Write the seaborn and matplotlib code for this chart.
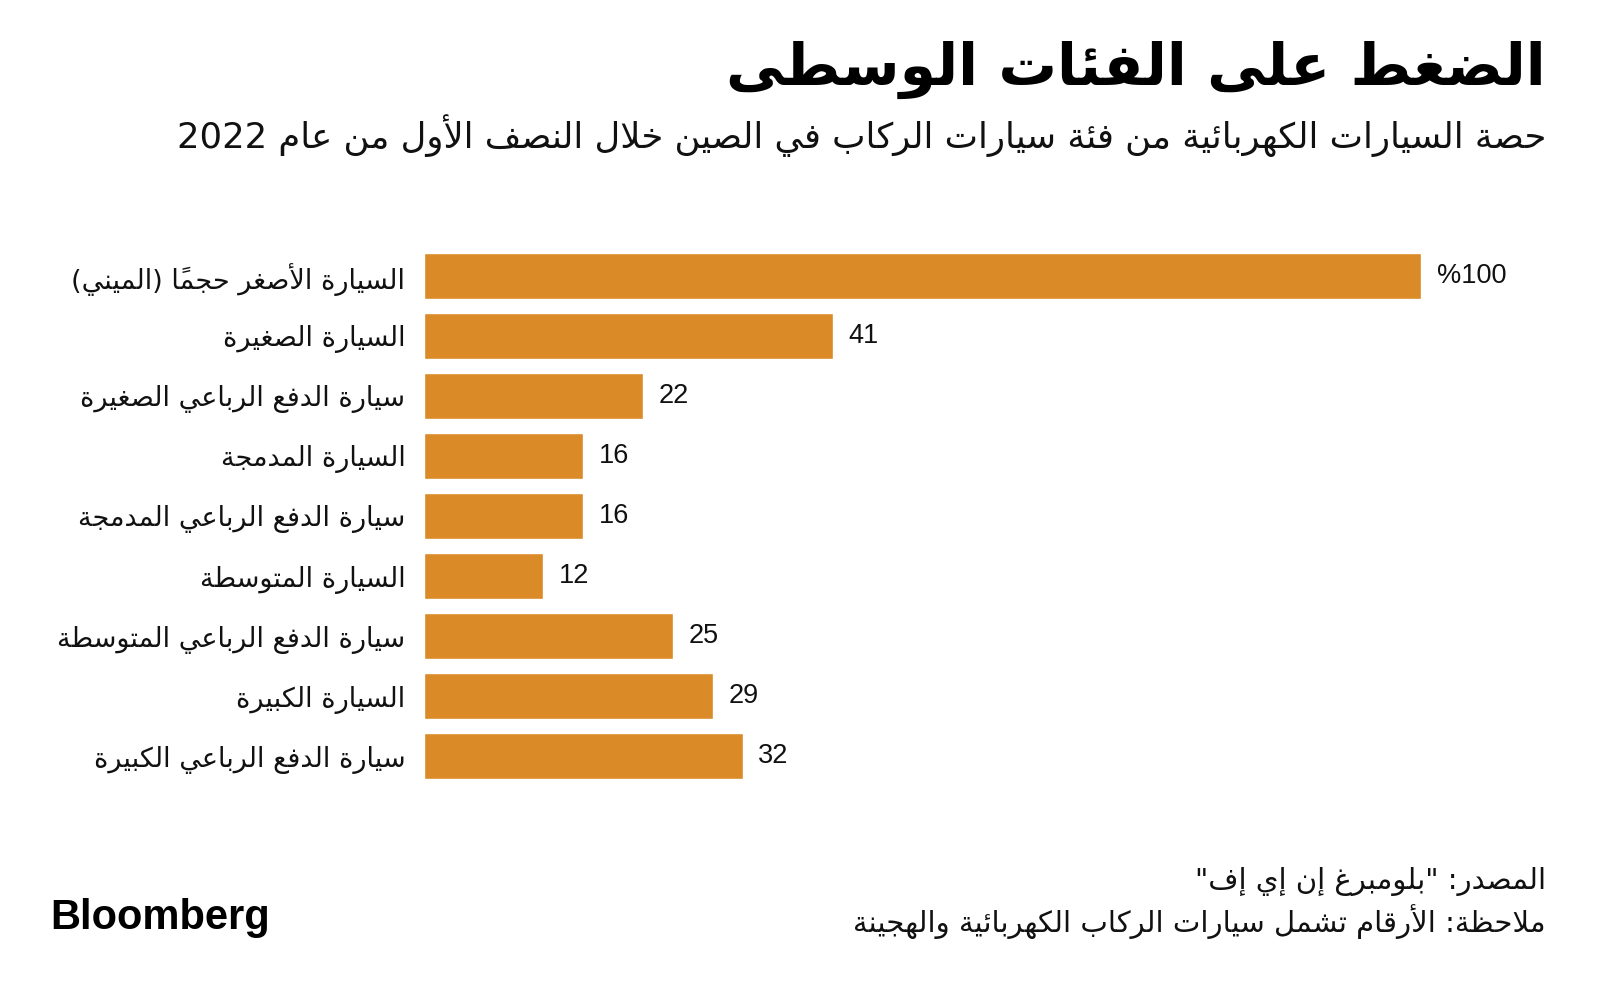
import matplotlib
matplotlib.use("Agg")
import matplotlib.pyplot as plt
import seaborn as sns
import pandas as pd

# ---------------- data ----------------
categories = [
    "السيارة الأصغر حجماً (الميني)",
    "السيارة الصغيرة",
    "سيارة الدفع الرباعي الصغيرة",
    "السيارة المدمجة",
    "سيارة الدفع الرباعي المدمجة",
    "السيارة المتوسطة",
    "سيارة الدفع الرباعي المتوسطة",
    "السيارة الكبيرة",
    "سيارة الدفع الرباعي الكبيرة",
]
values = [100, 41, 22, 16, 16, 12, 25, 29, 32]

title = "الضغط على الفئات الوسطى"
subtitle = "حصة السيارات الكهربائية من فئة سيارات الركاب في الصين خلال النصف الأول من عام 2022"
source = 'المصدر: "بلومبرغ إن إي إف"'
note = "ملاحظة: الأرقام تشمل سيارات الركاب الكهربائية والهجينة"
brand = "Bloomberg"

# ---------------- minimal Arabic shaping + RTL ordering ----------------
_SEQ = [('ء', 0xFE80, 1), ('آ', 0xFE81, 2), ('أ', 0xFE83, 2), ('ؤ', 0xFE85, 2),
        ('إ', 0xFE87, 2), ('ئ', 0xFE89, 4), ('ا', 0xFE8D, 2), ('ب', 0xFE8F, 4),
        ('ة', 0xFE93, 2), ('ت', 0xFE95, 4), ('ث', 0xFE99, 4), ('ج', 0xFE9D, 4),
        ('ح', 0xFEA1, 4), ('خ', 0xFEA5, 4), ('د', 0xFEA9, 2), ('ذ', 0xFEAB, 2),
        ('ر', 0xFEAD, 2), ('ز', 0xFEAF, 2), ('س', 0xFEB1, 4), ('ش', 0xFEB5, 4),
        ('ص', 0xFEB9, 4), ('ض', 0xFEBD, 4), ('ط', 0xFEC1, 4), ('ظ', 0xFEC5, 4),
        ('ع', 0xFEC9, 4), ('غ', 0xFECD, 4), ('ف', 0xFED1, 4), ('ق', 0xFED5, 4),
        ('ك', 0xFED9, 4), ('ل', 0xFEDD, 4), ('م', 0xFEE1, 4), ('ن', 0xFEE5, 4),
        ('ه', 0xFEE9, 4), ('و', 0xFEED, 2), ('ى', 0xFEEF, 2), ('ي', 0xFEF1, 4)]
_FORMS = {c: (b, n) for c, b, n in _SEQ}
_LAMALEF = {'آ': 0xFEF5, 'أ': 0xFEF7, 'إ': 0xFEF9, 'ا': 0xFEFB}
_MIRROR = {'(': ')', ')': '(', '[': ']', ']': '['}


def _is_mark(ch):
    return 0x064B <= ord(ch) <= 0x0652 or ord(ch) == 0x0670


def ar(s):
    units = []  # [base_codepoint or char, nforms, marks]
    i = 0
    while i < len(s):
        ch = s[i]
        if _is_mark(ch) and units:
            units[-1][2] += ch
            i += 1
            continue
        if ch == 'ل' and i + 1 < len(s) and s[i + 1] in _LAMALEF:
            units.append([_LAMALEF[s[i + 1]], 2, ''])
            i += 2
            continue
        if ch in _FORMS:
            b, n = _FORMS[ch]
            units.append([b, n, ''])
        else:
            units.append([ch, 0, ''])
        i += 1
    out = []
    for k, (b, n, m) in enumerate(units):
        if n == 0:
            ch = b
            ltr = ch.isdigit() or ('A' <= ch <= 'z')
            out.append((ch + m, ltr))
            continue
        prev_ok = k > 0 and units[k - 1][1] == 4
        next_ok = n == 4 and k + 1 < len(units) and units[k + 1][1] >= 2
        if n == 1:
            idx = 0
        elif n == 2:
            idx = 1 if prev_ok else 0
        else:
            idx = {(False, False): 0, (True, False): 1,
                   (False, True): 2, (True, True): 3}[(prev_ok, next_ok)]
        out.append((chr(b + idx) + m, False))
    res, run = [], []
    for u, ltr in reversed(out):
        if ltr:
            run.insert(0, u)
        else:
            if run:
                res.extend(run)
                run = []
            res.append(_MIRROR.get(u, u))
    res.extend(run)
    return ''.join(res)


# ---------------- figure ----------------
sns.set_theme(style="white")
plt.rcParams['font.family'] = ['DejaVu Sans']

W, H, DPI = 1600, 997, 100
fig = plt.figure(figsize=(W / DPI, H / DPI), dpi=DPI)
fig.patch.set_facecolor("white")

left_px, right_px = 423.5, 1421.4
top_px, bot_px = 246, 786
ax = fig.add_axes([left_px / W, 1 - bot_px / H, (right_px - left_px) / W, (bot_px - top_px) / H])

df = pd.DataFrame({"category": [ar(c) for c in categories], "value": values})
sns.barplot(data=df, x="value", y="category", orient="h", color="#DA8A26",
            saturation=1, width=0.77, ax=ax)
ax.set_xlim(0, 100)
ax.set_ylim(len(values) - 0.5, -0.5)
for sp in ax.spines.values():
    sp.set_visible(False)
ax.set_xlabel("")
ax.set_ylabel("")
ax.set_xticks([])
ax.tick_params(axis="y", length=0, pad=13, labelsize=19.5, labelcolor="#111111")
ax.set_facecolor("white")

val_labels = [("%" + str(v)) if i == 0 else str(v) for i, v in enumerate(values)]
ax.bar_label(ax.containers[0], labels=val_labels, padding=11,
             fontsize=19.5, color="#111111", family="Liberation Sans")

# texts
fig.text(1546 / W, 1 - 70 / H, ar(title), ha="right", va="center",
         fontsize=42, fontweight="bold", color="#000000")
fig.text(1546 / W, 1 - 136 / H, ar(subtitle), ha="right", va="center",
         fontsize=25.5, color="#111111")
fig.text(1546 / W, 1 - 881 / H, ar(source), ha="right", va="center",
         fontsize=21, color="#111111")
fig.text(1546 / W, 1 - 922 / H, ar(note), ha="right", va="center",
         fontsize=21, color="#111111")
fig.text(50 / W, 1 - 918 / H, brand, ha="left", va="center",
         fontsize=30, fontweight="bold", color="#000000", family="Liberation Sans")

fig.savefig("out.png", dpi=DPI, facecolor="white")
